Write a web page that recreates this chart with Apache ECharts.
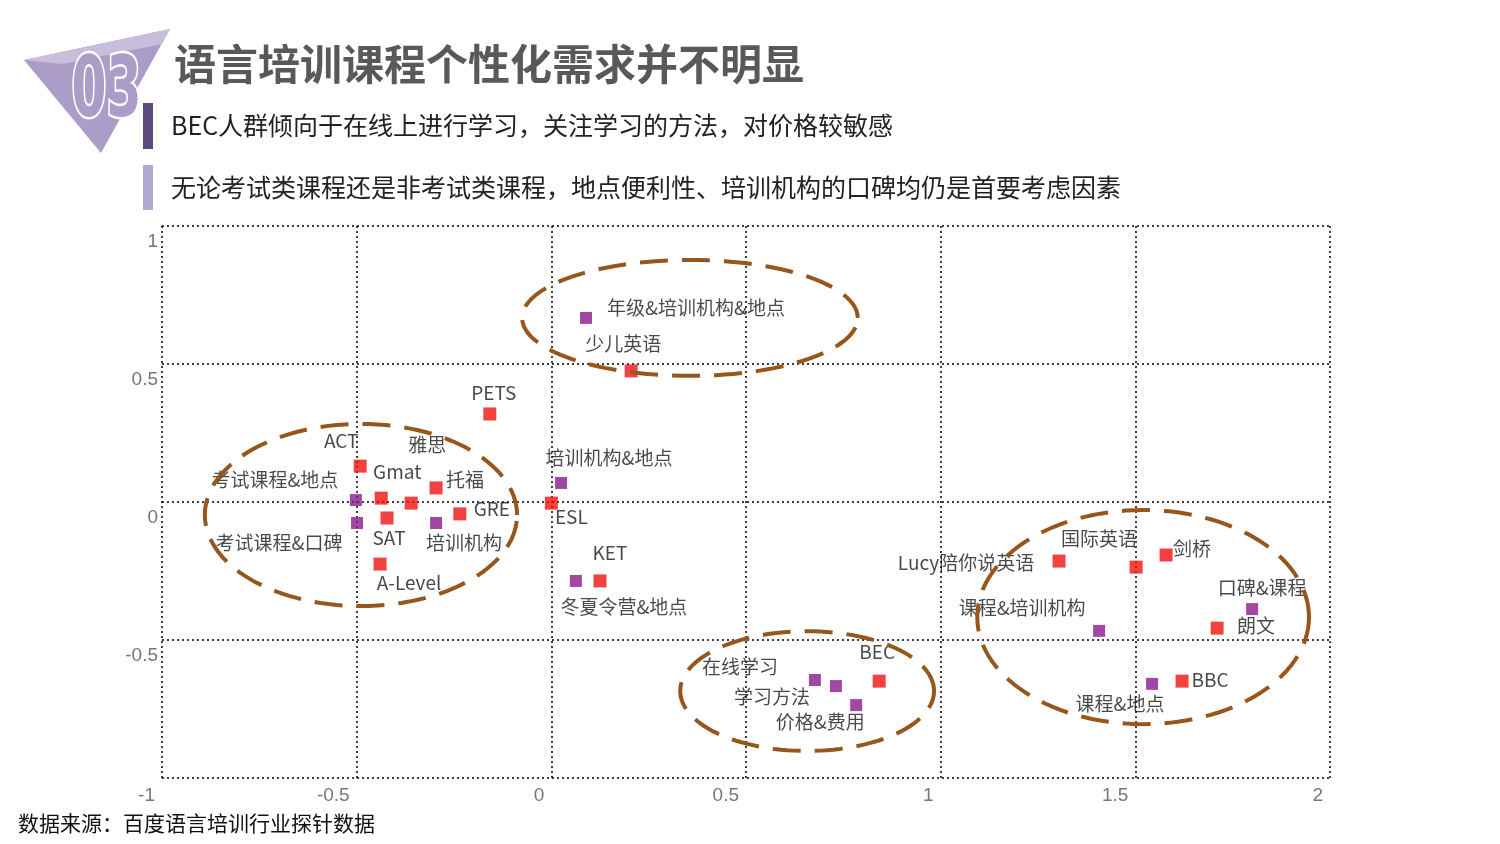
<!DOCTYPE html>
<html>
<head>
<meta charset="utf-8">
<script src="https://cdn.jsdelivr.net/npm/echarts@6/dist/echarts.min.js"></script>
<style>
html,body{margin:0;padding:0;background:#fff;}
#chart{width:1500px;height:844px;}
</style>
</head>
<body>
<div id="chart"></div>
<script>
// ---------- data ----------
const titleText = '语言培训课程个性化需求并不明显';
const bullet1 = 'BEC人群倾向于在线上进行学习，关注学习的方法，对价格较敏感';
const bullet2 = '无论考试类课程还是非考试类课程，地点便利性、培训机构的口碑均仍是首要考虑因素';
const sourceText = '数据来源：百度语言培训行业探针数据';

const xTicks = [-1, -0.5, 0, 0.5, 1, 1.5, 2];
const yTicks = [-0.5, 0, 0.5, 1];

// red markers (courses / brands)
const redNames = ['PETS','少儿英语','ACT','Gmat','雅思','托福','GRE','SAT','A-Level','ESL','KET','BEC','Lucy陪你说英语','国际英语','剑桥','朗文','BBC'];
const redX = [-0.158, 0.205, -0.491, -0.437, -0.360, -0.296, -0.235, -0.422, -0.440, 0.000, 0.125, 0.842, 1.304, 1.502, 1.579, 1.710, 1.620];
const redY = [0.319, 0.475, 0.130, 0.014, -0.004, 0.051, -0.043, -0.058, -0.225, -0.004, -0.286, -0.649, -0.214, -0.236, -0.192, -0.457, -0.649];

// purple markers (concerns)
const purpleNames = ['考试课程&地点','考试课程&口碑','培训机构','培训机构&地点','冬夏令营&地点','年级&培训机构&地点','在线学习','学习方法','价格&费用','口碑&课程','课程&培训机构','课程&地点'];
const purpleX = [-0.502, -0.499, -0.296, 0.025, 0.063, 0.089, 0.677, 0.731, 0.783, 1.800, 1.407, 1.543];
const purpleY = [0.007, -0.076, -0.076, 0.069, -0.286, 0.667, -0.645, -0.667, -0.736, -0.388, -0.467, -0.659];

// cluster ellipses (data units)
const ellipseCX = [0.356, -0.489, 0.657, 1.520];
const ellipseCY = [0.667, -0.047, -0.685, -0.417];
const ellipseRX = [0.431, 0.401, 0.326, 0.426];
const ellipseRY = [0.210, 0.330, 0.217, 0.388];

// ---------- label placement (pixels, relative to marker) ----------
const labelOffsets = {
  'PETS':[4,-21], '少儿英语':[-8,-27], 'ACT':[-19,-25], 'Gmat':[16,-26], '雅思':[16,-58],
  '托福':[29,-8], 'GRE':[32,-5], 'SAT':[2,20], 'A-Level':[29,19], 'ESL':[20,14],
  'KET':[10,-28], 'BEC':[-2,-29], 'Lucy陪你说英语':[-93,2], '国际英语':[-37,-28],
  '剑桥':[26,-6], '朗文':[39,-2], 'BBC':[28,-1],
  '考试课程&地点':[-81,-20], '考试课程&口碑':[-78,20], '培训机构':[28,20],
  '培训机构&地点':[48,-25], '冬夏令营&地点':[48,26], '年级&培训机构&地点':[110,-10],
  '在线学习':[-75,-13], '学习方法':[-64,11], '价格&费用':[-36,17],
  '口碑&课程':[10,-21], '课程&培训机构':[-77,-23], '课程&地点':[-32,20]
};

function buildPoints(names, xs, ys) {
  return names.map((n, i) => ({
    name: n,
    value: [xs[i], ys[i]],
    label: { offset: labelOffsets[n] || [0, -20] }
  }));
}

const FONT = '"Noto Sans CJK SC", "Noto Sans", sans-serif';
const AXFONT = '"Liberation Sans Narrow", "Liberation Sans", sans-serif';
const chart = echarts.init(document.getElementById('chart'), null, {renderer: 'canvas'});

const gridLine = { show: true, lineStyle: { color: '#000', type: [2, 3], width: 1.5 } };

const option = {
  backgroundColor: '#fff',
  animation: false,
  grid: { left: 162, right: 170, top: 226, bottom: 66 },
  xAxis: {
    type: 'value', min: -1, max: 2, interval: 0.5,
    axisLine: { show: false }, axisTick: { show: false },
    splitLine: gridLine,
    axisLabel: {
      color: '#777', fontSize: 19, fontFamily: AXFONT,
      margin: 8, align: 'right', padding: [0, 7, 0, 0],
      formatter: v => (xTicks.indexOf(v) >= 0 ? String(v) : '')
    }
  },
  yAxis: {
    type: 'value', min: -1, max: 1, interval: 0.5,
    axisLine: { show: false }, axisTick: { show: false },
    splitLine: gridLine,
    axisLabel: {
      color: '#777', fontSize: 19, fontFamily: AXFONT,
      margin: 4, verticalAlign: 'top', padding: [6, 0, 0, 0],
      formatter: v => (yTicks.indexOf(v) >= 0 ? String(v) : '')
    }
  },
  series: [
    {
      type: 'scatter', name: 'red', symbol: 'rect', symbolSize: 13,
      itemStyle: { color: '#ee1111' },
      label: { show: true, position: 'inside', formatter: '{b}', color: '#1a1a1a', fontSize: 19, fontFamily: FONT },
      data: buildPoints(redNames, redX, redY), z: 3
    },
    {
      type: 'scatter', name: 'purple', symbol: 'rect', symbolSize: 12,
      itemStyle: { color: '#8a1a8c' },
      label: { show: true, position: 'inside', formatter: '{b}', color: '#1a1a1a', fontSize: 19, fontFamily: FONT },
      data: buildPoints(purpleNames, purpleX, purpleY), z: 3
    },
    {
      type: 'custom', name: 'clusters', silent: true, z: 4,
      data: ellipseCX.map((cx, i) => [cx, ellipseCY[i], ellipseRX[i], ellipseRY[i]]),
      encode: { x: 0, y: 1 },
      renderItem: function (params, api) {
        const cx = api.value(0), cy = api.value(1), rx = api.value(2), ry = api.value(3);
        const pts = [];
        for (let k = 0; k < 120; k++) {
          const t = k / 120 * Math.PI * 2;
          pts.push(api.coord([cx + rx * Math.cos(t), cy + ry * Math.sin(t)]));
        }
        return {
          type: 'polygon',
          shape: { points: pts },
          style: { fill: 'none', stroke: '#97561c', lineWidth: 4, lineDash: [28, 14] }
        };
      }
    }
  ],
  graphic: [
    // gem icon
    { type: 'polygon', shape: { points: [[24, 60], [170, 29], [101, 153]] }, style: { fill: '#ab9dc8' } },
    { type: 'polygon', shape: { points: [[24, 60], [170, 29], [162, 44], [62, 64]] }, style: { fill: '#c8bedb' } },
    { type: 'text', left: 70, top: 50, scaleX: 0.6,
      style: { text: '03', fill: '#ab9dc8', stroke: '#fff', lineWidth: 5, font: 'bold 84px "DejaVu Sans", sans-serif' } },
    // title
    { type: 'text', left: 174, top: 43,
      style: { text: titleText, fill: '#595959', font: 'bold 42px ' + FONT } },
    // bullet bars
    { type: 'rect', shape: { x: 143, y: 103, width: 10, height: 46 }, style: { fill: '#5e4b7e' } },
    { type: 'rect', shape: { x: 143, y: 165, width: 10, height: 45 }, style: { fill: '#b3a8cf' } },
    { type: 'text', left: 171, top: 113,
      style: { text: bullet1, fill: '#222', font: '25px ' + FONT } },
    { type: 'text', left: 171, top: 175,
      style: { text: bullet2, fill: '#222', font: '25px ' + FONT } },
    // source
    { type: 'text', left: 18, top: 813,
      style: { text: sourceText, fill: '#111', font: '21px ' + FONT } }
  ]
};
chart.setOption(option);
</script>
</body>
</html>
